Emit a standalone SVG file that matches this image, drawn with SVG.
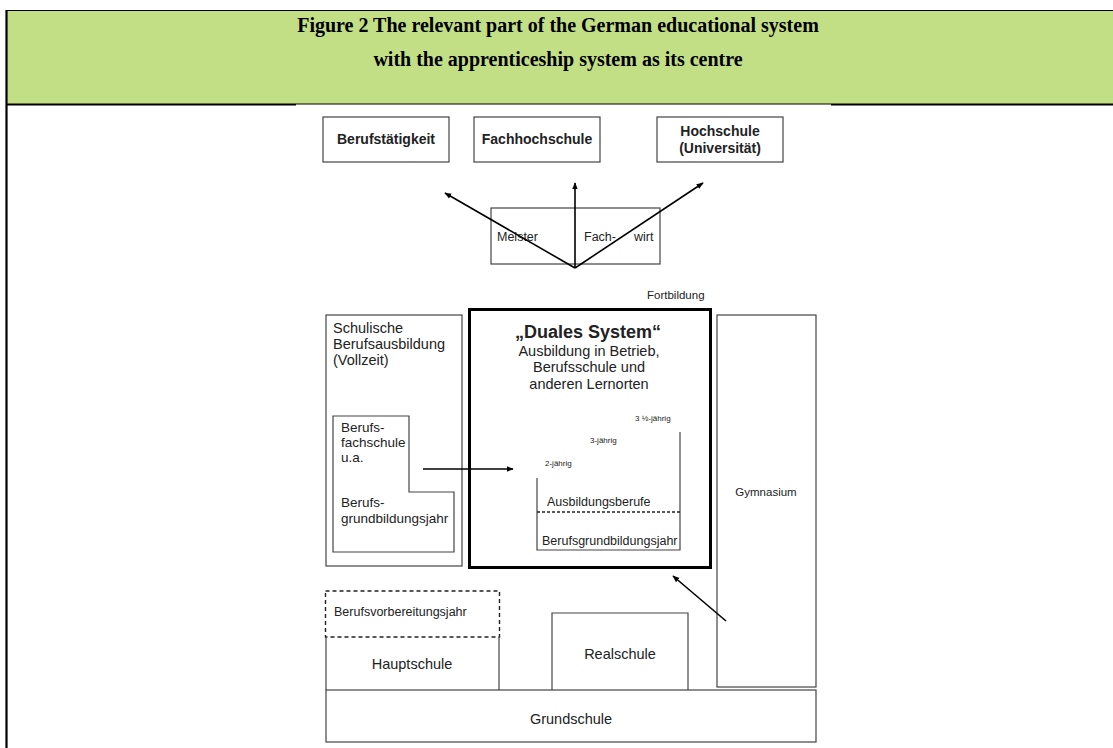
<svg xmlns="http://www.w3.org/2000/svg" width="1113" height="748" viewBox="0 0 1113 748">
<defs>
<style>
.title{font-family:"Liberation Serif","Times New Roman",serif;font-weight:bold;font-size:20px;fill:#000;text-anchor:middle}
.box{fill:#fff;stroke:#444;stroke-width:1.2}
.t{font-family:"Liberation Sans",Arial,sans-serif;fill:#222}
.b{font-weight:bold;font-size:14px;text-anchor:middle}
.m{font-size:14.5px}
.s{font-size:12.5px}
.n{font-size:13.5px}
.xs{font-size:8px}
.c{text-anchor:middle}
.arr{stroke:#000;stroke-width:1.6;fill:none;marker-end:url(#ah)}
</style>
<marker id="ah" viewBox="0 0 10 10" refX="9" refY="5" markerWidth="7" markerHeight="7" markerUnits="userSpaceOnUse" orient="auto">
<path d="M0,1 L10,5 L0,9 Z" fill="#000"/>
</marker>
</defs>
<rect width="1113" height="748" fill="#fff"/>
<g id="header">
<rect x="7" y="10" width="1106" height="94" fill="#c3df86"/>
<line x1="6" y1="10.5" x2="1113" y2="10.5" stroke="#000" stroke-width="1"/>
<line x1="6.5" y1="10" x2="6.5" y2="748" stroke="#000" stroke-width="2.2"/>
<line x1="6" y1="104.5" x2="296" y2="104.5" stroke="#000" stroke-width="2"/>
<line x1="296" y1="104" x2="831" y2="104" stroke="#000" stroke-width="1"/>
<line x1="831" y1="104.5" x2="1113" y2="104.5" stroke="#000" stroke-width="2"/>
<text class="title" x="558" y="32">Figure 2 The relevant part of the German educational system</text>
<text class="title" x="558" y="66">with the apprenticeship system as its centre</text>
</g>
<g id="berufstaetigkeit">
<rect class="box" x="323" y="117" width="126" height="45"/>
<text class="t b" x="386" y="144">Berufstätigkeit</text>
</g>
<g id="fachhochschule">
<rect class="box" x="474" y="117" width="126" height="45"/>
<text class="t b" x="537" y="144">Fachhochschule</text>
</g>
<g id="hochschule">
<rect class="box" x="657" y="117" width="126" height="45"/>
<text class="t b" x="720" y="136">Hochschule</text>
<text class="t b" x="720" y="153">(Universität)</text>
</g>
<g id="meister">
<rect class="box" x="491" y="208" width="169" height="56"/>
<text class="t s" x="497" y="241">Meister</text>
<text class="t s" x="584" y="241">Fach-</text>
<text class="t s" x="634" y="241">wirt</text>
</g>
<g id="fortbildung">
<text class="t" font-size="11.5" x="647" y="299">Fortbildung</text>
</g>
<g id="schulische">
<rect class="box" x="326" y="315" width="136" height="251"/>
<text class="t m" x="333" y="333">Schulische</text>
<text class="t m" x="333" y="349">Berufsausbildung</text>
<text class="t m" x="333" y="365">(Vollzeit)</text>
<path class="box" d="M333,416 H409 V492 H454 V552 H333 Z"/>
<text class="t n" x="341" y="432">Berufs-</text>
<text class="t n" x="341" y="447">fachschule</text>
<text class="t n" x="341" y="462">u.a.</text>
<text class="t n" x="341" y="507">Berufs-</text>
<text class="t n" x="341" y="523">grundbildungsjahr</text>
</g>
<g id="duales">
<rect x="469.5" y="309.5" width="241" height="258" fill="#fff" stroke="#000" stroke-width="3"/>
<text class="t c" x="588" y="338" font-size="18" font-weight="bold">„Duales System“</text>
<text class="t m c" x="589" y="356">Ausbildung in Betrieb,</text>
<text class="t m c" x="589" y="372">Berufsschule und</text>
<text class="t m c" x="589" y="389">anderen Lernorten</text>
<text class="t xs" x="635" y="421">3 ½-jährig</text>
<text class="t xs" x="590" y="443">3-jährig</text>
<text class="t xs" x="545" y="466">2-jährig</text>
<path d="M537,478 V550 H680 V432" fill="none" stroke="#444" stroke-width="1.2"/>
<line x1="537" y1="512" x2="680" y2="512" stroke="#222" stroke-width="1.3" stroke-dasharray="3,2"/>
<text class="t s" x="547" y="506">Ausbildungsberufe</text>
<text class="t s" x="542" y="545">Berufsgrundbildungsjahr</text>
</g>
<g id="gymnasium">
<rect class="box" x="717" y="315" width="99" height="372"/>
<text class="t c" font-size="11.5" x="766" y="496">Gymnasium</text>
</g>
<g id="berufsvorbereitungsjahr">
<rect x="325.5" y="591" width="174" height="46" fill="#fff" stroke="#222" stroke-width="1.4" stroke-dasharray="4,3"/>
<text class="t s" x="334" y="616">Berufsvorbereitungsjahr</text>
</g>
<g id="hauptschule">
<path d="M326,637 V690 M499,637 V690" stroke="#444" stroke-width="1.2"/>
<text class="t m c" x="412" y="669">Hauptschule</text>
</g>
<g id="realschule">
<path d="M552,690 V613 H688 V690" fill="#fff" stroke="#444" stroke-width="1.2"/>
<text class="t m c" x="620" y="659">Realschule</text>
</g>
<g id="grundschule">
<rect class="box" x="326" y="690" width="490" height="52"/>
<text class="t m c" x="571" y="724">Grundschule</text>
</g>
<g id="connectors">
<line class="arr" x1="575" y1="268" x2="445" y2="193"/>
<line class="arr" x1="575" y1="268" x2="575" y2="183"/>
<line class="arr" x1="575" y1="268" x2="703" y2="183"/>
<line class="arr" x1="423" y1="469" x2="513" y2="469"/>
<line class="arr" x1="726" y1="621" x2="673" y2="576"/>
</g>
</svg>
